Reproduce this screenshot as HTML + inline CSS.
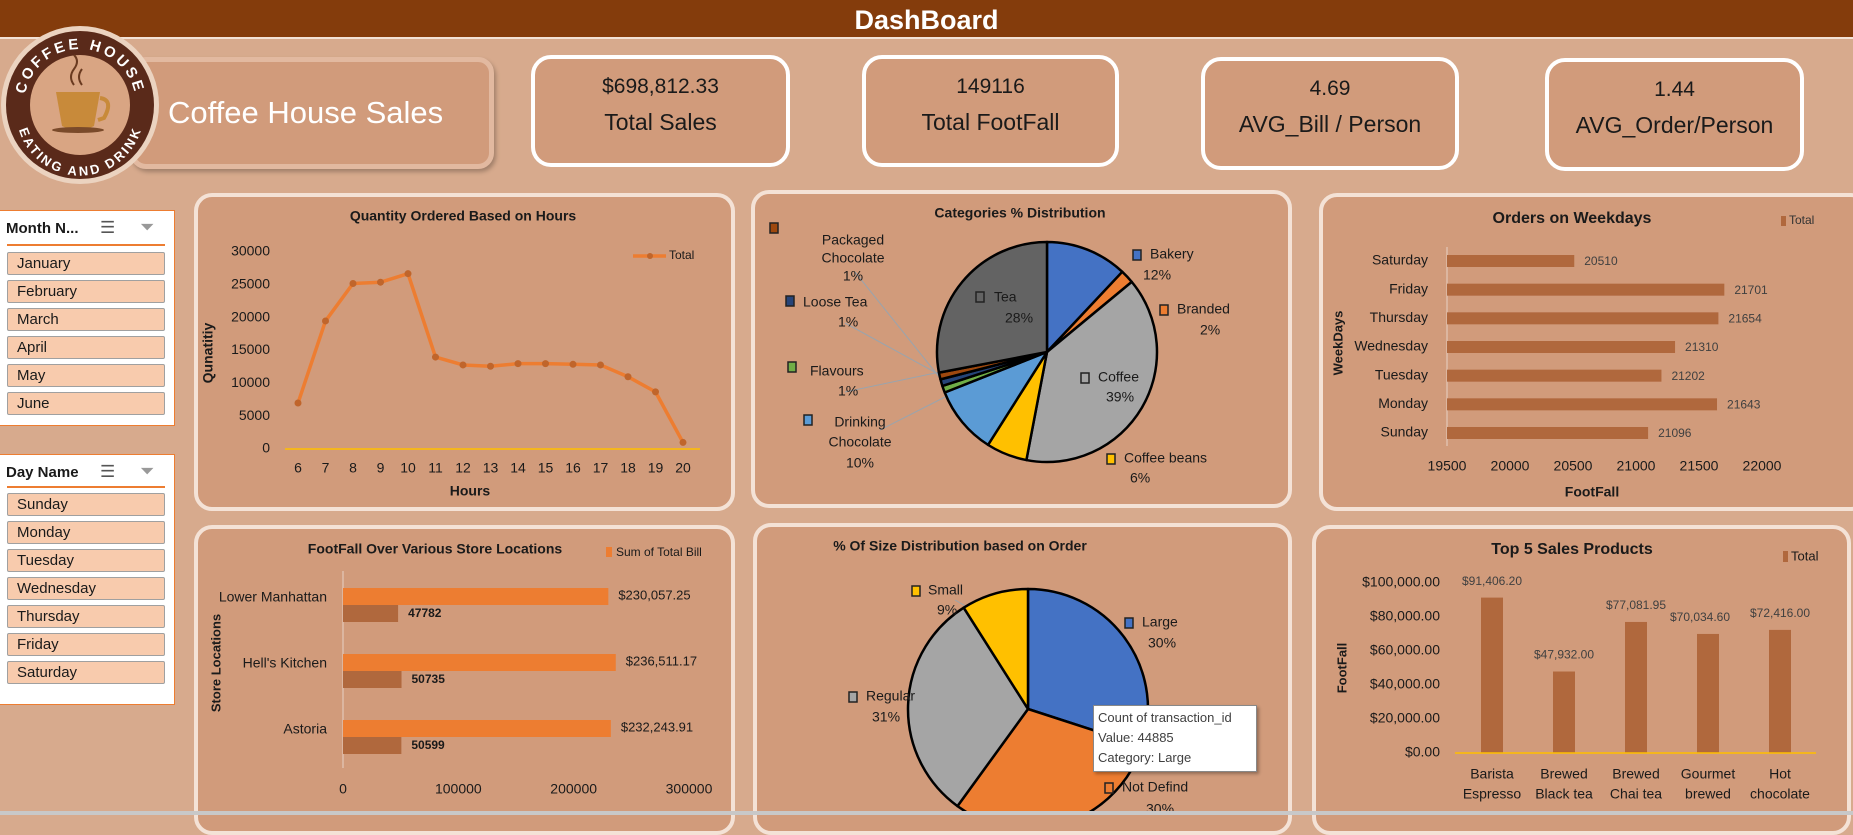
<!DOCTYPE html>
<html><head><meta charset="utf-8">
<style>
*{box-sizing:border-box;margin:0;padding:0}
body{width:1853px;height:815px;overflow:hidden;background:#D7AA8D;font-family:"Liberation Sans",sans-serif;position:relative;color:#1a1a1a}
.abs{position:absolute}
#header{left:0;top:0;width:1853px;height:39px;background:#843C0C;border-bottom:2px solid #f3e2d6;color:#fff;font-weight:bold;font-size:27px;text-align:center;line-height:40px}
.kpi{background:#D19B7B;border:4px solid #fff;border-radius:20px;text-align:center;font-size:21px}
.kpi .v{margin-top:16px}
.kpi .l{font-size:23px;margin-top:10px}
.panel{background:#D19B7B;border:4px solid #F4E2D6;border-radius:18px}
.slicer{background:#fff;border:1.5px solid #ED7D31;border-left:none}
.slicer .hd{position:absolute;left:6px;top:9px;font-weight:bold;font-size:15px}
.slicer .ln{position:absolute;left:7px;width:158px;height:2px;background:#ED7D31}
.btn{position:absolute;left:7px;width:158px;height:23px;background:#F8CBAD;border:1px solid #a0a0a0;border-radius:2px;font-size:15px;line-height:22px;padding-left:9px}
svg text{font-family:"Liberation Sans",sans-serif}
</style></head><body>
<div id="header" class="abs">DashBoard</div>

<div class="abs" style="left:130px;top:57px;width:364px;height:112px;background:#D19B7B;border:5px solid #E2B9A0;border-radius:16px;box-shadow:2px 3px 4px rgba(0,0,0,.25)"></div>
<div class="abs" style="left:168px;top:95px;color:#fff;font-size:31px">Coffee House Sales</div>

<svg class="abs" style="left:0;top:0" width="170" height="200">
<circle cx="80" cy="105" r="79" fill="#EBD3C0"/>
<circle cx="80" cy="105" r="74" fill="#5A2A1A"/>
<circle cx="80" cy="105" r="50" fill="#D9A583"/>
<path d="M56 92 h44 l-6 34 q-16 8 -32 0 z" fill="#C88A3A"/>
<path d="M100 98 q14 2 4 20 l-6 2" stroke="#C88A3A" stroke-width="4" fill="none"/>
<ellipse cx="78" cy="130" rx="26" ry="3" fill="#7a4a2a"/>
<path d="M74 85 q-6 -8 0 -16 q6 -8 0 -14 M82 85 q-6 -8 0 -16" stroke="#6a3a20" stroke-width="2" fill="none"/>
<path id="arcTop" d="M24 105 A56 56 0 0 1 136 105" fill="none"/>
<path id="arcBot" d="M26 112 A54 54 0 0 0 134 112" fill="none"/>
<text fill="#fff" font-size="15" font-weight="bold" letter-spacing="3"><textPath href="#arcTop" startOffset="50%" text-anchor="middle">COFFEE HOUSE</textPath></text>
<text fill="#fff" font-size="13" font-weight="bold" letter-spacing="1"><textPath href="#arcBot" startOffset="50%" text-anchor="middle" dominant-baseline="hanging">EATING AND DRINK</textPath></text>
</svg>

<div class="abs kpi" style="left:531px;top:55px;width:259px;height:112px"><div class="v">$698,812.33</div><div class="l">Total Sales</div></div>
<div class="abs kpi" style="left:862px;top:55px;width:257px;height:112px"><div class="v">149116</div><div class="l">Total FootFall</div></div>
<div class="abs kpi" style="left:1201px;top:57px;width:258px;height:113px"><div class="v">4.69</div><div class="l">AVG_Bill / Person</div></div>
<div class="abs kpi" style="left:1545px;top:58px;width:259px;height:113px"><div class="v">1.44</div><div class="l">AVG_Order/Person</div></div>

<div class="abs slicer" style="left:0;top:210px;width:175px;height:216px">
<div class="hd">Month N...</div>
<div class="abs" style="left:100px;top:7px;font-size:17px;color:#555">☰</div>
<div class="abs" style="left:140px;top:6px;font-size:18px;color:#999">⏷</div>
<div class="ln" style="top:33px"></div>
<div class="btn" style="top:41px">January</div>
<div class="btn" style="top:69px">February</div>
<div class="btn" style="top:97px">March</div>
<div class="btn" style="top:125px">April</div>
<div class="btn" style="top:153px">May</div>
<div class="btn" style="top:181px">June</div>
</div>
<div class="abs slicer" style="left:0;top:454px;width:175px;height:251px">
<div class="hd">Day Name</div>
<div class="abs" style="left:100px;top:7px;font-size:17px;color:#555">☰</div>
<div class="abs" style="left:140px;top:6px;font-size:18px;color:#999">⏷</div>
<div class="ln" style="top:31px"></div>
<div class="btn" style="top:38px">Sunday</div>
<div class="btn" style="top:66px">Monday</div>
<div class="btn" style="top:94px">Tuesday</div>
<div class="btn" style="top:122px">Wednesday</div>
<div class="btn" style="top:150px">Thursday</div>
<div class="btn" style="top:178px">Friday</div>
<div class="btn" style="top:206px">Saturday</div>
</div>

<div class="abs panel" style="left:194px;top:193px;width:541px;height:318px"></div>
<div class="abs panel" style="left:751px;top:190px;width:541px;height:318px"></div>
<div class="abs panel" style="left:1319px;top:193px;width:550px;height:318px"></div>
<div class="abs panel" style="left:194px;top:525px;width:541px;height:310px"></div>
<div class="abs panel" style="left:753px;top:523px;width:539px;height:312px"></div>
<div class="abs panel" style="left:1312px;top:525px;width:539px;height:310px"></div>

<svg id="charts" class="abs" style="left:0;top:0" width="1853" height="815"></svg>

<div class="abs" style="left:1093px;top:705px;width:164px;height:67px;background:#fff;border:1px solid #888;box-shadow:2px 2px 3px rgba(0,0,0,.3);font-size:13px;line-height:20px;padding:2px 4px;color:#404040;white-space:nowrap">Count of transaction_id<br>Value: 44885<br>Category: Large</div>
<div class="abs" style="left:0;top:811px;width:1853px;height:4px;background:#C8C8C8"></div>

<script>
// ---- data ----
const hours = [6,7,8,9,10,11,12,13,14,15,16,17,18,19,20];
const hourQty = [7000,19500,25200,25400,26700,14000,12800,12600,13000,13000,12900,12800,11000,8700,1000];
const hourTicks = [0,5000,10000,15000,20000,25000,30000];

const catNames = ["Bakery","Branded","Coffee","Coffee beans","Drinking Chocolate","Flavours","Loose Tea","Packaged Chocolate","Tea"];
const catPct = [12,2,39,6,10,1,1,1,28];
const catColors = ["#4472C4","#ED7D31","#A5A5A5","#FFC000","#5B9BD5","#70AD47","#264478","#9E480E","#636363"];

const weekDays = ["Saturday","Friday","Thursday","Wednesday","Tuesday","Monday","Sunday"];
const weekVals = [20510,21701,21654,21310,21202,21643,21096];
const weekTicks = [19500,20000,20500,21000,21500,22000];

const stores = ["Lower Manhattan","Hell's Kitchen","Astoria"];
const storeBill = [230057.25,236511.17,232243.91];
const storeFoot = [47782,50735,50599];
const storeTicks = [0,100000,200000,300000];

const sizeNames = ["Large","Not Defind","Regular","Small"];
const sizePct = [30,30,31,9];
const sizeColors = ["#4472C4","#ED7D31","#A5A5A5","#FFC000"];

const products = [["Barista","Espresso"],["Brewed","Black tea"],["Brewed","Chai tea"],["Gourmet","brewed"],["Hot","chocolate"]];
const productSales = [91406.20,47932.00,77081.95,70034.60,72416.00];
const salesTicks = [0,20000,40000,60000,80000,100000];

// ---- helpers ----
const svg = document.getElementById('charts');
const NS = 'http://www.w3.org/2000/svg';
function mk(tag, attrs, parent){const e=document.createElementNS(NS,tag);for(const k in attrs)e.setAttribute(k,attrs[k]);(parent||svg).appendChild(e);return e;}
function txt(x,y,s,size,opts){const e=mk('text',Object.assign({x:x,y:y,'font-size':size,fill:'#1a1a1a','dominant-baseline':'middle'},opts||{}));e.textContent=s;return e;}
const money = v => '$'+v.toLocaleString('en-US',{minimumFractionDigits:2,maximumFractionDigits:2});

// ---- hours line chart ----
(function(){
  const x0=298,x1=683,y0=449,y1=252;
  const xs = h => x0+(h-hours[0])/(hours[hours.length-1]-hours[0])*(x1-x0);
  const ys = v => y0-(v/30000)*(y0-y1);
  let t=txt(463,217,'Quantity Ordered Based on Hours',14,{'text-anchor':'middle','font-weight':'bold'});
  
  hourTicks.forEach(v=>{const e=txt(270,ys(v),String(v),14,{'text-anchor':'end'});});
  hours.forEach(h=>{const e=txt(xs(h),469,String(h),14,{'text-anchor':'middle'});});
  const base=mk('line',{x1:285,y1:y0,x2:700,y2:y0,stroke:'#FFC000','stroke-width':1.5});
  
  const pts=hours.map((h,i)=>xs(h)+','+ys(hourQty[i])).join(' ');
  const pl=mk('polyline',{points:pts,fill:'none',stroke:'#ED7D31','stroke-width':3.5,'stroke-linejoin':'round'});
  
  hours.forEach((h,i)=>{const c=mk('circle',{cx:xs(h),cy:ys(hourQty[i]),r:3.5,fill:'#C0652B'});});
  const lg=mk('line',{x1:633,y1:256,x2:666,y2:256,stroke:'#ED7D31','stroke-width':3.5});
  
  mk('circle',{cx:650,cy:256,r:3,fill:'#C0652B'});
  t=txt(669,256,'Total',12);
  t=txt(470,492,'Hours',14,{'text-anchor':'middle','font-weight':'bold'});
  t=txt(0,0,'Qunatitiy',14,{'text-anchor':'middle','font-weight':'bold',transform:'translate(209,353) rotate(-90)'});
  
})();

function pie(cx,cy,r,vals,colors,name){
  const tot=vals.reduce((a,b)=>a+b,0);let a=-Math.PI/2;
  vals.forEach((v,i)=>{const a2=a+v/tot*2*Math.PI;
    const p=`M${cx},${cy} L${cx+r*Math.cos(a)},${cy+r*Math.sin(a)} A${r},${r} 0 ${(a2-a)>Math.PI?1:0} 1 ${cx+r*Math.cos(a2)},${cy+r*Math.sin(a2)} Z`;
    const s=mk('path',{d:p,fill:colors[i],stroke:'#000','stroke-width':2.5,'stroke-linejoin':'round'});
    
    a=a2;});
}
function lbl(mx,my,color,lines,tx,size,anchor){
  const m=mk('rect',{x:mx-4,y:my-5,width:8,height:10,fill:color,stroke:'#222','stroke-width':1.5});
  
  lines.forEach((l,i)=>{const e=txt(tx[i][0],tx[i][1],l,size,{'text-anchor':anchor||'start'});});
}

(function(){
  let t=txt(1020,214,'Categories  % Distribution',14,{'text-anchor':'middle','font-weight':'bold'});
  
  [[855,272,940,378],[845,323,940,375],[845,392,940,372],[880,430,945,397]].forEach(l=>mk('line',{x1:l[0],y1:l[1],x2:l[2],y2:l[3],stroke:'#9aa4ad','stroke-width':1}));
  pie(1047,352,110,catPct,catColors,'category');
  lbl(774,228,catColors[7],[],[],13);
  [['Packaged',853,241],['Chocolate',853,259],['1%',853,277]].forEach(a=>{const e=txt(a[1],a[2],a[0],14,{'text-anchor':'middle'});});
  lbl(790,301,catColors[6],['Loose Tea','1%'],[[803,303],[838,323]],14);
  lbl(792,367,catColors[5],['Flavours','1%'],[[810,372],[838,392]],14);
  lbl(808,420,catColors[4],['Drinking','Chocolate','10%'],[[860,423],[860,443],[860,464]],14,'middle');
  lbl(980,297,catColors[8],['Tea','28%'],[[994,298],[1005,319]],14);
  lbl(1137,255,catColors[0],['Bakery','12%'],[[1150,255],[1143,276]],14);
  lbl(1164,310,catColors[1],['Branded','2%'],[[1177,310],[1200,331]],14);
  lbl(1085,378,catColors[2],['Coffee','39%'],[[1098,378],[1106,398]],14);
  lbl(1111,459,catColors[3],['Coffee beans','6%'],[[1124,459],[1130,479]],14);
})();

(function(){
  const x0=1447,x1=1762,yTop=261,yBot=433;
  const xs=v=>x0+(v-19500)/(22000-19500)*(x1-x0);
  const step=(yBot-yTop)/(weekDays.length-1);
  let t=txt(1572,219,'Orders on Weekdays',16,{'text-anchor':'middle','font-weight':'bold'});
  
  const lm=mk('rect',{x:1781,y:216,width:5,height:10,fill:'#B0683D'});
  t=txt(1789,221,'Total',12,{fill:'#333'});
  mk('line',{x1:x0,y1:247,x2:x0,y2:446,stroke:'#E8D2C4','stroke-width':1});
  weekDays.forEach((d,i)=>{const y=yTop+i*step;
    const b=mk('rect',{x:x0,y:y-6,width:xs(weekVals[i])-x0,height:12,fill:'#B0683D'});
    
    let e=txt(1428,y,d,14,{'text-anchor':'end'});
    e=txt(xs(weekVals[i])+10,y+1,String(weekVals[i]),12,{fill:'#404040'});
  });
  weekTicks.forEach(v=>{const e=txt(xs(v),467,String(v),14,{'text-anchor':'middle'});});
  t=txt(1592,493,'FootFall',14,{'text-anchor':'middle','font-weight':'bold'});
  t=txt(0,0,'WeekDays',13,{'text-anchor':'middle','font-weight':'bold',transform:'translate(1339,343) rotate(-90)'});
  
})();

(function(){
  const x0=343,x1=689,ys=[605,671,737];
  const xs=v=>x0+v/300000*(x1-x0);
  let t=txt(435,550,'FootFall Over Various Store Locations',14,{'text-anchor':'middle','font-weight':'bold'});
  
  const lm=mk('rect',{x:606,y:547,width:6,height:10,fill:'#ED7D31'});
  t=txt(616,553,'Sum of Total Bill',12);
  mk('line',{x1:x0,y1:571,x2:x0,y2:768,stroke:'#E8D2C4','stroke-width':1});
  stores.forEach((s,i)=>{const y=ys[i];
    let b=mk('rect',{x:x0,y:y-17,width:xs(storeBill[i])-x0,height:17,fill:'#ED7D31'});
    
    b=mk('rect',{x:x0,y:y,width:xs(storeFoot[i])-x0,height:17,fill:'#B0683D'});
    
    let e=txt(327,y-7,s,14,{'text-anchor':'end'});
    e=txt(xs(storeBill[i])+10,y-9,money(storeBill[i]),13);
    e=txt(xs(storeFoot[i])+10,y+9,String(storeFoot[i]),12,{'font-weight':'bold'});
  });
  storeTicks.forEach(v=>{const e=txt(xs(v),790,String(v),14,{'text-anchor':'middle'});});
  t=txt(0,0,'Store Locations',13,{'text-anchor':'middle','font-weight':'bold',transform:'translate(217,663) rotate(-90)'});
  
})();

(function(){
  let t=txt(960,547,'% Of Size Distribution based on Order',14,{'text-anchor':'middle','font-weight':'bold'});
  
  mk('line',{x1:955,y1:600,x2:978,y2:613,stroke:'#9aa4ad','stroke-width':1});
  pie(1028,709,120,sizePct,sizeColors,'size');
  lbl(916,591,sizeColors[3],['Small','9%'],[[928,591],[937,611]],14);
  lbl(1129,623,sizeColors[0],['Large','30%'],[[1142,623],[1148,644]],14);
  lbl(853,697,sizeColors[2],['Regular','31%'],[[866,697],[872,718]],14);
  lbl(1109,788,sizeColors[1],['Not Defind','30%'],[[1122,788],[1146,810]],14);
})();

(function(){
  const y0=753,y1=583,xs=[1492,1564,1636,1708,1780];
  const ys=v=>y0-v/100000*(y0-y1);
  let t=txt(1572,550,'Top 5 Sales Products',16,{'text-anchor':'middle','font-weight':'bold'});
  
  const lm=mk('rect',{x:1783,y:551,width:5,height:11,fill:'#B0683D'});
  t=txt(1791,557,'Total',13);
  salesTicks.forEach(v=>{const e=txt(1440,ys(v),money(v),14,{'text-anchor':'end'});});
  productSales.forEach((v,i)=>{
    const b=mk('rect',{x:xs[i]-11,y:ys(v),width:22,height:y0-ys(v),fill:'#B0683D'});
    
    let e=txt(xs[i]+(i==3?-8:0),ys(v)-16,money(v),12,{'text-anchor':'middle',fill:'#404040'});
    
    products[i].forEach((l,j)=>{const x=txt(xs[i],775+j*20,l,14,{'text-anchor':'middle'});});
  });
  const base=mk('line',{x1:1455,y1:y0,x2:1816,y2:y0,stroke:'#FFC000','stroke-width':1.5});
  
  t=txt(0,0,'FootFall',13,{'text-anchor':'middle','font-weight':'bold',transform:'translate(1343,668) rotate(-90)'});
  
})();
</script>
</body></html>
